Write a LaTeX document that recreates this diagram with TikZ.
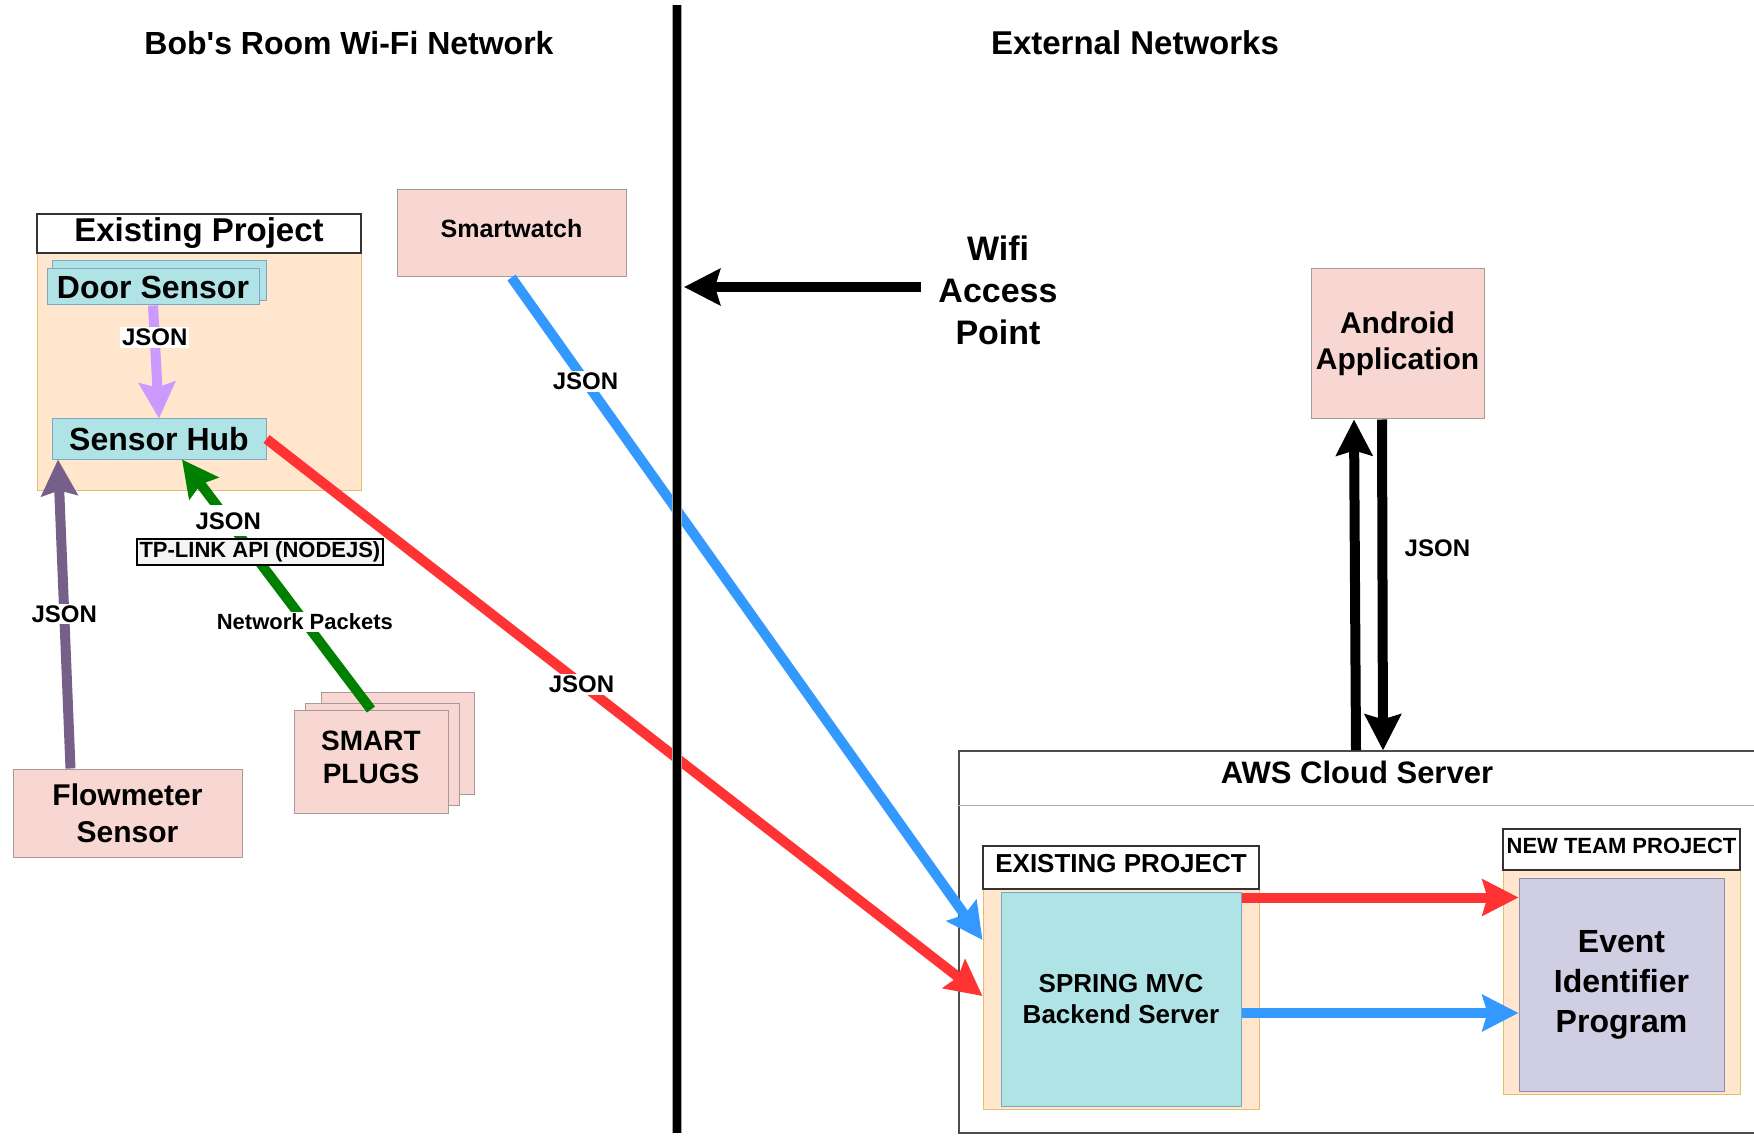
\documentclass[tikz,border=0pt]{standalone}
\usepackage{fontspec}
\setmainfont{Liberation Sans}
\usepackage{xcolor}
\usetikzlibrary{arrows.meta}
\definecolor{peachfill}{HTML}{FFE6CC}
\definecolor{peachline}{HTML}{E3BE6C}
\definecolor{cyanfill}{HTML}{B0E3E6}
\definecolor{cyanline}{HTML}{7EA6C6}
\definecolor{pinkfill}{HTML}{F8D7D3}
\definecolor{pinkline}{HTML}{A89A99}
\definecolor{lilacfill}{HTML}{D0CEE2}
\definecolor{lilacline}{HTML}{8E8CB4}
\definecolor{jsonred}{HTML}{FF3333}
\definecolor{jsonblue}{HTML}{3399FF}
\definecolor{plugreen}{HTML}{008000}
\definecolor{doorpurple}{HTML}{CC99FF}
\definecolor{flowpurple}{HTML}{76608A}
\newcommand{\pxfont}[2]{\bfseries\fontsize{#1}{#2}\selectfont}

\begin{document}
\begin{tikzpicture}[x=1pt,y=-1pt,
			fat/.style={line width=10pt,-{Stealth[length=36pt,width=36pt,inset=5pt]}},
			lbl/.style={fill=white,text=black,inner sep=2pt,font=\pxfont{24}{28}},
			titlebox/.style={draw=black!80,fill=white,line width=1.2pt,inner sep=0pt},
			projbox/.style={draw=peachline,fill=peachfill,line width=1pt},
			cyanbox/.style={draw=cyanline,fill=cyanfill,line width=1pt,inner sep=0pt},
			pinkbox/.style={draw=pinkline,fill=pinkfill,line width=1pt,inner sep=0pt,align=center},
			lilacbox/.style={draw=lilacline,fill=lilacfill,line width=1pt,inner sep=0pt,align=center}]
			\useasboundingbox[fill=white] (0,0) rectangle (1754,1139);
			\node[font=\pxfont{32}{38}] (leftnet) at (349,43) {Bob\textquotesingle s Room Wi-Fi Network};
			\node[font=\pxfont{33}{38}] (rightnet) at (1135,43) {External Networks};
			\node[projbox,minimum width=324pt,minimum height=237pt] (exleft) at (199,371.5) {};
			\node[titlebox,minimum width=324pt,minimum height=39pt,font=\pxfont{33}{38}] (exlefttitle) at (199,233.5) {Existing Project};
			\node[cyanbox,minimum width=214pt,minimum height=40pt] (doorback) at (159,281) {};
			\node[cyanbox,minimum width=212pt,minimum height=36pt,font=\pxfont{32}{38}] (door) at (153,287) {Door Sensor};
			\node[cyanbox,minimum width=214pt,minimum height=40pt,font=\pxfont{32}{38}] (hub) at (159,439) {Sensor Hub};
			\node[pinkbox,minimum width=229pt,minimum height=88pt,font=\pxfont{30}{37}] (flow) at (127.5,813) {Flowmeter\\Sensor};
			\node[pinkbox,minimum width=153pt,minimum height=102pt] (plugback) at (397.5,743) {};
			\node[pinkbox,minimum width=154pt,minimum height=102pt] (plugmid) at (382,754) {};
			\node[pinkbox,minimum width=154pt,minimum height=103pt,font=\pxfont{28}{33}] (plugs) at (371,761.5) {SMART\\PLUGS\rule[-9pt]{0pt}{9pt}};
			\node[pinkbox,minimum width=229pt,minimum height=87pt,text depth=10pt,font=\pxfont{25}{30}] (watch) at (511.5,233.5) {Smartwatch};
			\node[align=center,inner sep=0pt,font=\pxfont{34}{42}] (wifi) at (998,290) {Wifi\\Access\\Point};
			\node[pinkbox,minimum width=173pt,minimum height=150pt,font=\pxfont{30}{36}] (android) at (1397.5,344) {Android\\Application};
			\node[draw=black!70,line width=1.2pt,minimum width=831pt,minimum height=382pt] (aws) at (1374.5,942) {};
			\draw[black!30,line width=1pt] ([yshift=-55pt]aws.north west) -- ([yshift=-55pt]aws.north east);
			\node[font=\pxfont{31}{36}] (awstitle) at (1357,772) {AWS Cloud Server};
			\node[projbox,minimum width=276pt,minimum height=220pt] (exright) at (1121,999) {};
			\node[titlebox,minimum width=276pt,minimum height=43pt,text depth=8pt,font=\pxfont{26}{30}] (exrighttitle) at (1121,867.5) {EXISTING PROJECT};
			\node[cyanbox,minimum width=240pt,minimum height=214pt,align=center,font=\pxfont{26}{31}] (spring) at (1121,999) {SPRING MVC\\Backend Server};
			\node[projbox,minimum width=237pt,minimum height=224pt] (newproj) at (1621.5,982) {};
			\node[titlebox,minimum width=237pt,minimum height=41pt,text depth=8pt,font=\pxfont{22}{26}] (newprojtitle) at (1621.5,849.5) {NEW TEAM PROJECT};
			\node[lilacbox,minimum width=205pt,minimum height=213pt,font=\pxfont{32}{40}] (event) at (1621.5,985) {Event\\Identifier\\Program};
			\coordinate (wall) at (684,0);
			\draw[fat,doorpurple] (door.south) -- node[lbl,pos=0.28] {JSON} (hub.north);
			\draw[fat,flowpurple] ([xshift=-57pt]flow.north) -- node[lbl,pos=0.5] {JSON} ([xshift=-101pt]hub.south);
			\draw[fat,plugreen] (plugs.north) -- node[lbl,pos=0.35,font=\pxfont{22}{26}] {Network Packets}
				node[lbl,pos=0.755,inner ysep=7pt] {JSON}
				node[pos=0.63,xshift=8pt,draw=black,text=black,line width=2pt,fill=black!4,inner sep=3pt,font=\pxfont{22}{26}] {TP-LINK API (NODEJS)} ([xshift=23pt]hub.south);
			\draw[fat,jsonred] (hub.east) -- node[lbl,pos=0.44] {JSON} ([yshift=3pt]exright.west);
			\draw[fat,jsonblue] (watch.south) -- node[lbl,pos=0.157] {JSON} ([yshift=59pt]exright.west);
			\draw[fat,jsonred] ([yshift=-6pt]spring.north east) -- ([yshift=-6pt]spring.north east -| event.west);
			\draw[fat,jsonblue] ([yshift=-14pt]spring.east) -- ([yshift=-14pt]spring.east -| event.west);
			\draw[fat,black] ([xshift=-18.5pt]aws.north) -- ([xshift=-43.5pt]android.south);
			\draw[fat,black] ([xshift=-15.5pt]android.south) -- node[pos=0.39,anchor=west,xshift=14pt,font=\pxfont{24}{28}] {JSON} ([xshift=8.5pt]aws.north);
			\draw[fat,black] ([xshift=-17pt,yshift=3pt]wifi.west) -- ([yshift=3pt]wifi.west -| wall);
			\draw[black!35,line width=10pt] (676.5,5) -- (676.5,1133);
			\draw[black,line width=8pt] (676.5,5) -- (676.5,1133);
		\end{tikzpicture}
\end{document}
